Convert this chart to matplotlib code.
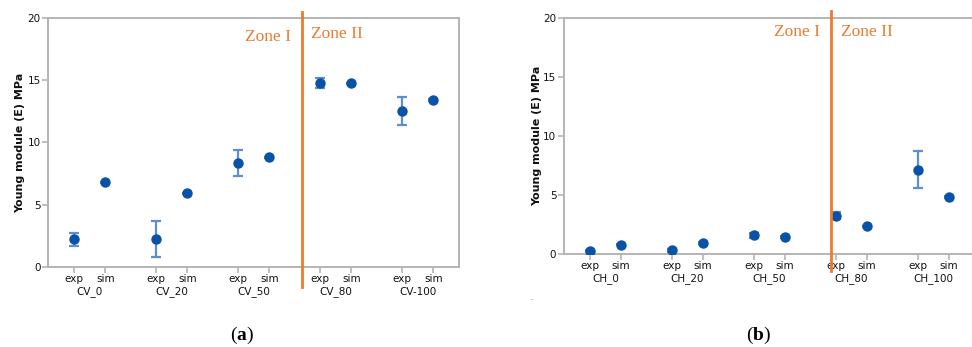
import matplotlib
matplotlib.use("Agg")
import matplotlib.pyplot as plt
import numpy as np

plt.rcParams["mathtext.fontset"] = "custom"
plt.rcParams["mathtext.rm"] = "Liberation Serif"
plt.rcParams["mathtext.bf"] = "Liberation Serif:bold"

# ---- data ----
groups_a = ["CV_0", "CV_20", "CV_50", "CV_80", "CV-100"]
exp_a = [2.2, 2.2, 8.37, 14.78, 12.55]
exp_err_a = [0.5, 1.45, 1.05, 0.4, 1.15]
sim_a = [6.78, 5.9, 8.8, 14.78, 13.42]
sim_err_a = [0.05, 0.05, 0.05, 0.05, 0.05]

groups_b = ["CH_0", "CH_20", "CH_50", "CH_80", "CH_100"]
exp_b = [0.25, 0.3, 1.58, 3.25, 7.14]
exp_err_b = [0.1, 0.1, 0.22, 0.3, 1.55]
sim_b = [0.8, 0.93, 1.44, 2.35, 4.83]
sim_err_b = [0.05, 0.05, 0.05, 0.05, 0.05]

sub_labels = ["exp", "sim"]
y_ticks = [0, 5, 10, 15, 20]
ylabel = "Young module (E) MPa"

MARKER = "#0a52a5"
ERR = "#5b8fcf"
ORANGE = "#ec7a2f"
SPINE = "#b4b4b4"
TXT = "#111111"

fig = plt.figure(figsize=(9.72, 3.47), dpi=100)

def panel(rect, groups, exp, exp_err, sim, sim_err, zone_x, zone_text_y, line_ext,
          caption, cap_x, ylab_pad, grp_y):
    ax = fig.add_axes(rect)
    pos_exp = np.arange(len(groups)) * 2.6
    pos_sim = pos_exp + 1.0
    ax.errorbar(pos_exp, exp, yerr=exp_err, fmt="none", ecolor=ERR, elinewidth=1.6,
                capsize=3.5, capthick=1.6, zorder=2)
    ax.errorbar(pos_sim, sim, yerr=sim_err, fmt="none", ecolor=ERR, elinewidth=1.6,
                capsize=3.5, capthick=1.6, zorder=2)
    ax.plot(pos_exp, exp, "o", color=MARKER, ms=6.5, zorder=3)
    ax.plot(pos_sim, sim, "o", color=MARKER, ms=6.5, zorder=3)
    ax.set_xlim(-0.81, pos_sim[-1] + 0.82)
    ax.set_ylim(0, 20)
    ax.set_yticks(y_ticks)
    ax.set_yticklabels([str(t) for t in y_ticks], fontsize=7.5, color=TXT)
    ticks = np.sort(np.concatenate([pos_exp, pos_sim]))
    ax.set_xticks(ticks)
    ax.set_xticklabels(sub_labels * len(groups), fontsize=7.5, color=TXT)
    for s in ax.spines.values():
        s.set_color(SPINE)
        s.set_linewidth(1.4)
    ax.tick_params(axis="both", color=SPINE, length=4, width=1.2, pad=1.5)
    ax.tick_params(axis="x", pad=1)
    ax.set_ylabel(ylabel, fontsize=8, fontweight="semibold", labelpad=ylab_pad, color=TXT)
    for g, xc in zip(groups, (pos_exp + pos_sim) / 2):
        ax.text(xc, grp_y, g, transform=ax.get_xaxis_transform(), ha="center", va="center",
                fontsize=7.5, color=TXT)
    ax.plot([zone_x, zone_x], [line_ext[0], line_ext[1]], color=ORANGE, lw=2,
            transform=ax.get_xaxis_transform(), clip_on=False, zorder=4)
    ax.text(zone_x - 0.35, zone_text_y[0], "Zone I", transform=ax.get_xaxis_transform(),
            ha="right", va="center", fontsize=12.5, color=ORANGE, family="Liberation Serif")
    ax.text(zone_x + 0.3, zone_text_y[1], "Zone II", transform=ax.get_xaxis_transform(),
            ha="left", va="center", fontsize=12.5, color=ORANGE, family="Liberation Serif")
    fig.text(cap_x / 972, 1 - 335 / 347, r"$\mathrm{(}\mathbf{" + caption + r"}\mathrm{)}$",
             ha="center", va="center", fontsize=14)
    return ax

# left panel: axes px left 48.3, right 459.3, top 18.3, bottom 266.7
panel([48.3 / 972, 1 - 266.7 / 347, 411 / 972, 248.4 / 347],
      groups_a, exp_a, exp_err_a, sim_a, sim_err_a,
      zone_x=7.23, zone_text_y=(0.925, 0.935), line_ext=(-0.08, 1.025),
      caption="a", cap_x=241.7, ylab_pad=1.5, grp_y=-0.1)

# right panel: axes px left 564, top 18, bottom 254, extends past right edge
panel([564 / 972, 1 - 254 / 347, 411 / 972, 236 / 347],
      groups_b, exp_b, exp_err_b, sim_b, sim_err_b,
      zone_x=7.67, zone_text_y=(0.94, 0.94), line_ext=(-0.07, 1.03),
      caption="b", cap_x=758.3, ylab_pad=0.5, grp_y=-0.103)

fig.text(530 / 972, 1 - 300 / 347, ".", fontsize=5, color="#444444")

fig.savefig("out.png", dpi=100)
